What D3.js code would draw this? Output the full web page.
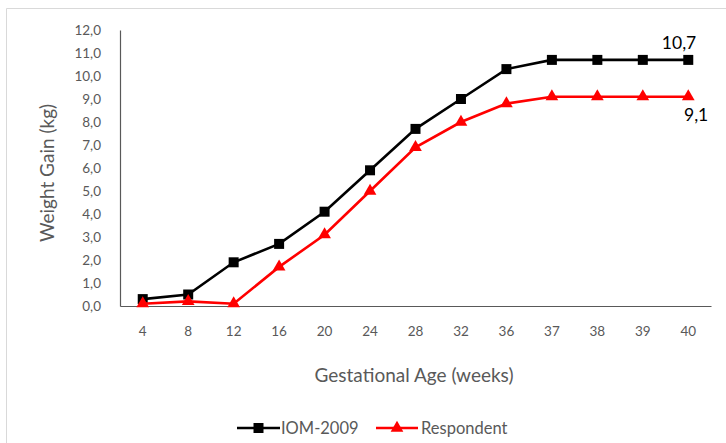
<!DOCTYPE html>
<html>
<head>
<meta charset="utf-8">
<script src="https://cdn.jsdelivr.net/npm/d3@7"></script>
<style>
  html, body { margin: 0; padding: 0; background: #fff; }
  svg { display: block; }
  text { font-family: Lato, "Open Sans", sans-serif; }
</style>
</head>
<body>
<svg id="chart" width="726" height="443"></svg>
<script>
// Gestational age categories (weeks)
const weeks = ["4", "8", "12", "16", "20", "24", "28", "32", "36", "37", "38", "39", "40"];
// Recommended cumulative weight gain (IOM 2009), kg
const iom2009 = [0.3, 0.5, 1.9, 2.7, 4.1, 5.9, 7.7, 9.0, 10.3, 10.7, 10.7, 10.7, 10.7];
// Respondents' cumulative weight gain, kg
const respondent = [0.1, 0.2, 0.1, 1.7, 3.1, 5.0, 6.9, 8.0, 8.8, 9.1, 9.1, 9.1, 9.1];
// Y axis tick values
const yTicks = [0, 1, 2, 3, 4, 5, 6, 7, 8, 9, 10, 11, 12];

const svg = d3.select("#chart");
const margin = { left: 120, right: 15, top: 30, bottom: 137 };
const W = 726, H = 443;
const plotW = W - margin.left - margin.right;
const plotH = H - margin.top - margin.bottom;

const fmt = v => d3.format(".1f")(v).replace(".", ",");

// Frame edges (top and left)
svg.append("line").attr("x1", 6.5).attr("x2", 726).attr("y1", 8.5).attr("y2", 8.5)
  .attr("stroke", "#d9d9d9");
svg.append("line").attr("x1", 6.5).attr("x2", 6.5).attr("y1", 8.5).attr("y2", 443)
  .attr("stroke", "#d9d9d9");

const g = svg.append("g").attr("transform", `translate(${margin.left},${margin.top})`);

const x = d3.scaleBand().domain(weeks).range([0, plotW]);
const xc = d => x(d) + x.bandwidth() / 2;
const y = d3.scaleLinear().domain([0, 12]).range([plotH, 0]);

// Y axis
const yAxis = g.append("g")
  .call(d3.axisLeft(y).tickValues(yTicks).tickFormat(fmt).tickSize(0).tickPadding(19));
yAxis.select(".domain").attr("stroke", "#595959").attr("stroke-width", 1.2);
yAxis.selectAll("text").attr("fill", "#595959").style("font-size", "13.5px");

// X axis
const xAxis = g.append("g").attr("transform", `translate(0,${plotH})`)
  .call(d3.axisBottom(x).tickSize(0).tickPadding(20));
xAxis.select(".domain").attr("stroke", "#595959").attr("stroke-width", 1.2);
xAxis.selectAll("text").attr("fill", "#595959").style("font-size", "13.5px");

// Axis titles
svg.append("text")
  .attr("transform", "translate(46,173) rotate(-90)")
  .attr("text-anchor", "middle").attr("dominant-baseline", "central")
  .attr("fill", "#595959").style("font-size", "19px")
  .text("Weight Gain (kg)");
svg.append("text")
  .attr("x", 414).attr("y", 382)
  .attr("text-anchor", "middle")
  .attr("fill", "#595959").style("font-size", "19px")
  .text("Gestational Age (weeks)");

const line = d3.line().x((d, i) => xc(weeks[i])).y(d => y(d));

const series = [
  { name: "IOM-2009", values: iom2009, color: "#000000", symbol: d3.symbolSquare, size: 100 },
  { name: "Respondent", values: respondent, color: "#ff0000", symbol: d3.symbolTriangle, size: 70 }
];

series.forEach(s => {
  g.append("path").datum(s.values)
    .attr("d", line).attr("fill", "none")
    .attr("stroke", s.color).attr("stroke-width", 2.6);
  g.selectAll(null).data(s.values).enter().append("path")
    .attr("d", d3.symbol().type(s.symbol).size(s.size))
    .attr("transform", (d, i) => `translate(${xc(weeks[i])},${y(d)})`)
    .attr("fill", s.color);
});

// Value labels on last points
const last = weeks.length - 1;
g.append("text")
  .attr("x", xc(weeks[last]) + 8).attr("y", y(iom2009[last]) - 11)
  .attr("text-anchor", "end").attr("fill", "#000").style("font-size", "17.5px")
  .text(fmt(iom2009[last]));
g.append("text")
  .attr("x", xc(weeks[last]) + 20).attr("y", y(respondent[last]) + 24)
  .attr("text-anchor", "end").attr("fill", "#000").style("font-size", "17.5px")
  .text(fmt(respondent[last]));

// Legend
const legend = svg.append("g").attr("transform", "translate(0,428)");
const legendItems = [
  { s: series[0], x0: 237, x1: 280, tx: 281 },
  { s: series[1], x0: 376, x1: 418, tx: 421 }
];
legendItems.forEach(it => {
  legend.append("line").attr("x1", it.x0).attr("x2", it.x1)
    .attr("stroke", it.s.color).attr("stroke-width", 2.6);
  legend.append("path")
    .attr("d", d3.symbol().type(it.s.symbol).size(it.s.size))
    .attr("transform", `translate(${(it.x0 + it.x1) / 2},0)`)
    .attr("fill", it.s.color);
  legend.append("text").attr("x", it.tx).attr("y", 0)
    .attr("dominant-baseline", "central")
    .attr("fill", "#595959").style("font-size", "16.5px")
    .text(it.s.name);
});
</script>
</body>
</html>
